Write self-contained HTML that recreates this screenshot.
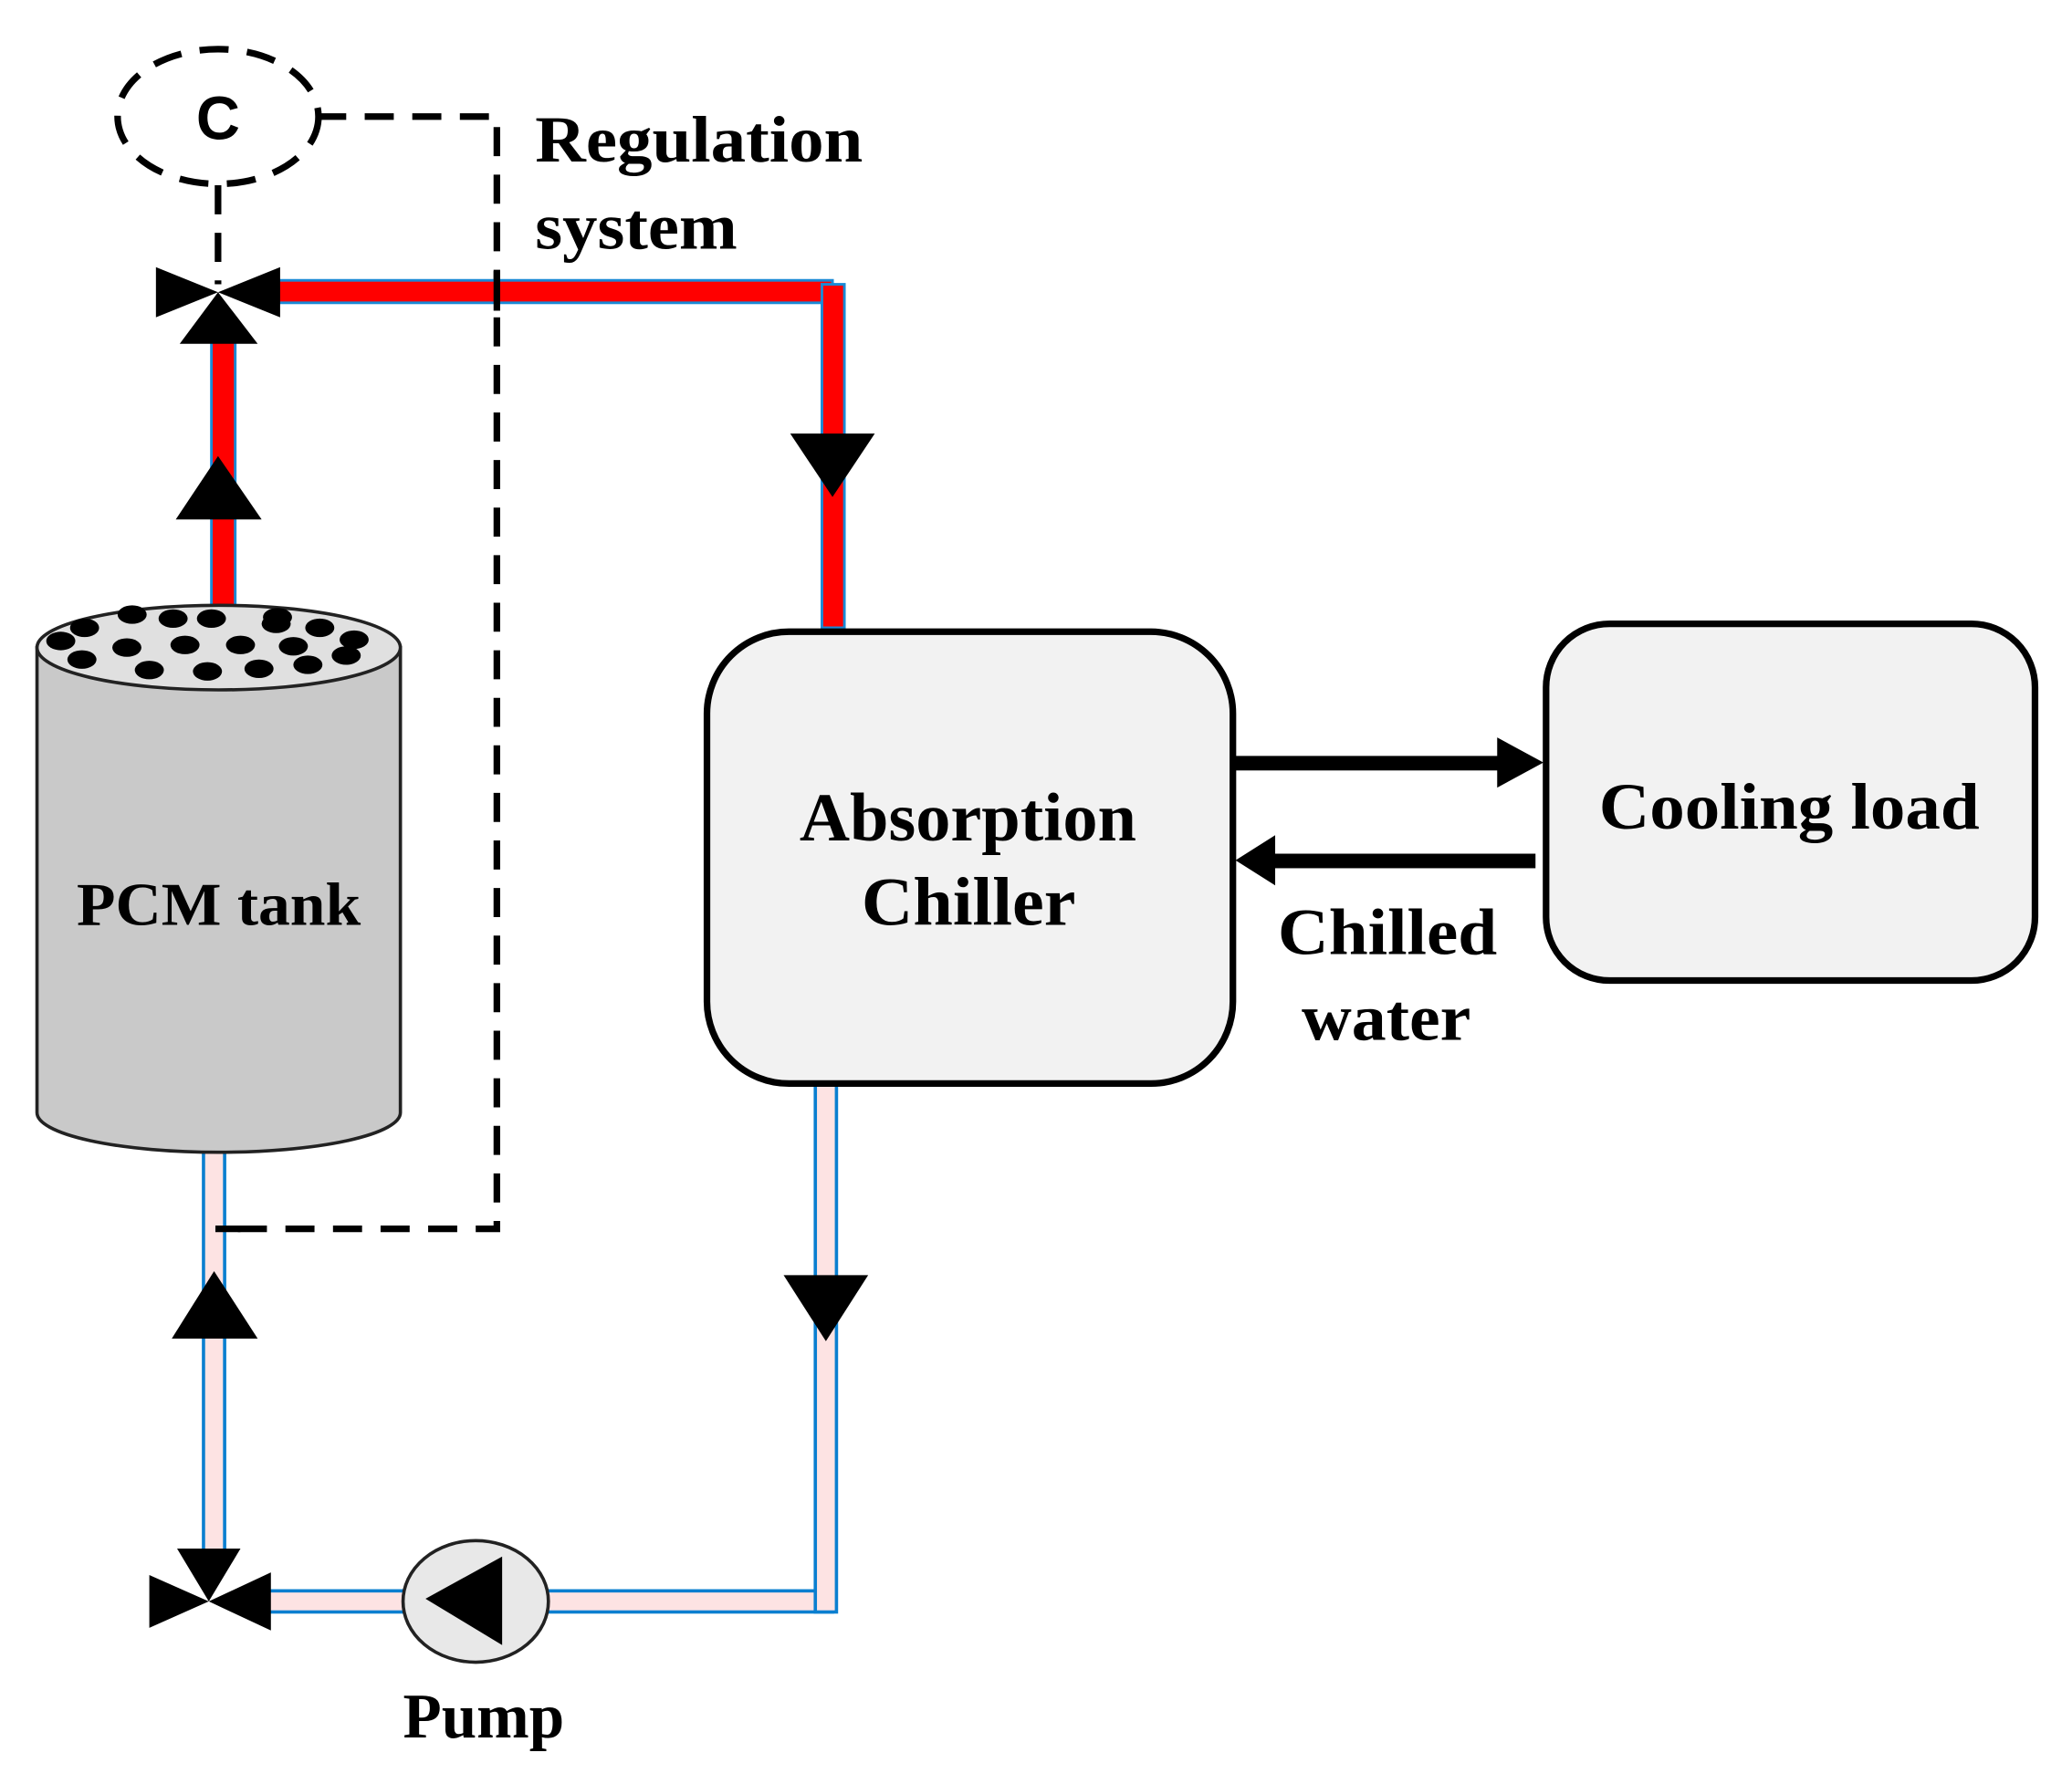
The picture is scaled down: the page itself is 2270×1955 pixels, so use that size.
<!DOCTYPE html>
<html><head><meta charset="utf-8"><style>html,body{margin:0;padding:0;background:#fff}svg{display:block}</style></head>
<body>
<svg width="2270" height="1955" viewBox="0 0 1568 1350" xmlns="http://www.w3.org/2000/svg" font-family="'Liberation Serif',serif" font-weight="bold">
<rect width="1568" height="1350" fill="#fff"/>
<g fill="none" stroke="#000" stroke-width="5" stroke-dasharray="22,14">
<ellipse cx="165" cy="88" rx="76" ry="51"/>
<path d="M240 88 H376 V930 H165"/>
<path d="M165 140 V215"/>
</g>
<text x="165" y="105" font-family="'Liberation Sans',sans-serif" font-size="46" text-anchor="middle">C</text>
<g>
<rect x="160" y="250" width="18" height="215" fill="#ff0000" stroke="#1a8ad6" stroke-width="2"/>
<rect x="205" y="212" width="425" height="17" fill="#ff0000" stroke="#1a8ad6" stroke-width="2"/>
<rect x="622" y="215" width="17" height="260" fill="#ff0000" stroke="#1a8ad6" stroke-width="2"/>
</g>
<line x1="376" y1="205" x2="376" y2="235" stroke="#000" stroke-width="5"/>
<g fill="#fde3e3" stroke="#0a7fd0" stroke-width="2.5">
<rect x="154" y="868" width="16" height="310"/>
<rect x="200" y="1204" width="430" height="16"/>
<rect x="617" y="820" width="16" height="400"/>
</g>
<line x1="163" y1="930" x2="182" y2="930" stroke="#000" stroke-width="5"/>
<g fill="#000">
<polygon points="118,202 118,240 165,221"/>
<polygon points="212,202 212,240 165,221"/>
<polygon points="165,221 136,260 195,260"/>
</g>
<g fill="#000">
<polygon points="113,1192 113,1232 158,1212"/>
<polygon points="205,1190 205,1234 158,1212"/>
<polygon points="134,1172 182,1172 158,1212"/>
</g>
<g fill="#000">
<polygon points="165,345 133,393 198,393"/>
<polygon points="598,328 662,328 630,376"/>
<polygon points="162,962 130,1013 195,1013"/>
<polygon points="593,965 657,965 625,1015"/>
</g>
<path d="M28 490 V842 A137.5 30 0 0 0 303 842 V490 Z" fill="#c9c9c9" stroke="#222" stroke-width="2.5"/>
<ellipse cx="165.5" cy="490" rx="137.5" ry="32" fill="#e0e0e0" stroke="#222" stroke-width="2.5"/>
<g fill="#000">
<ellipse cx="64" cy="475" rx="11" ry="7"/>
<ellipse cx="100" cy="465" rx="11" ry="7"/>
<ellipse cx="131" cy="468" rx="11" ry="7"/>
<ellipse cx="160" cy="468" rx="11" ry="7"/>
<ellipse cx="209" cy="472" rx="11" ry="7"/>
<ellipse cx="242" cy="475" rx="11" ry="7"/>
<ellipse cx="46" cy="485" rx="11" ry="7"/>
<ellipse cx="96" cy="490" rx="11" ry="7"/>
<ellipse cx="140" cy="488" rx="11" ry="7"/>
<ellipse cx="182" cy="488" rx="11" ry="7"/>
<ellipse cx="222" cy="489" rx="11" ry="7"/>
<ellipse cx="268" cy="484" rx="11" ry="7"/>
<ellipse cx="62" cy="499" rx="11" ry="7"/>
<ellipse cx="113" cy="507" rx="11" ry="7"/>
<ellipse cx="157" cy="508" rx="11" ry="7"/>
<ellipse cx="196" cy="506" rx="11" ry="7"/>
<ellipse cx="233" cy="503" rx="11" ry="7"/>
<ellipse cx="262" cy="496" rx="11" ry="7"/>
<ellipse cx="210" cy="467" rx="11" ry="7"/>
</g>
<text x="58" y="700" font-size="46" textLength="215" lengthAdjust="spacingAndGlyphs">PCM tank</text>
<rect x="535" y="478" width="398" height="342" rx="62" fill="#f2f2f2" stroke="#000" stroke-width="5"/>
<text x="605" y="636" font-size="52" textLength="255" lengthAdjust="spacingAndGlyphs">Absorption</text>
<text x="652" y="700" font-size="52" textLength="162" lengthAdjust="spacingAndGlyphs">Chiller</text>
<rect x="1170" y="472" width="370" height="270" rx="48" fill="#f2f2f2" stroke="#000" stroke-width="5"/>
<text x="1210" y="627" font-size="50" textLength="288" lengthAdjust="spacingAndGlyphs">Cooling load</text>
<rect x="933" y="572" width="205" height="11" fill="#000"/>
<polygon points="1133,558 1168,577 1133,596" fill="#000"/>
<rect x="962" y="646" width="200" height="11" fill="#000"/>
<polygon points="965,632 935,651 965,670" fill="#000"/>
<text x="967" y="722" font-size="50" textLength="166" lengthAdjust="spacingAndGlyphs">Chilled</text>
<text x="985" y="787" font-size="50" textLength="128" lengthAdjust="spacingAndGlyphs">water</text>
<ellipse cx="360" cy="1212" rx="55" ry="46" fill="#e8e8e8" stroke="#222" stroke-width="2.5"/>
<polygon points="380,1178 380,1245 322,1210" fill="#000"/>
<text x="305" y="1315" font-size="48" textLength="122" lengthAdjust="spacingAndGlyphs">Pump</text>
<text x="405" y="122" font-size="50" textLength="248" lengthAdjust="spacingAndGlyphs">Regulation</text>
<text x="405" y="188" font-size="50" textLength="153" lengthAdjust="spacingAndGlyphs">system</text>
</svg>
</body></html>
